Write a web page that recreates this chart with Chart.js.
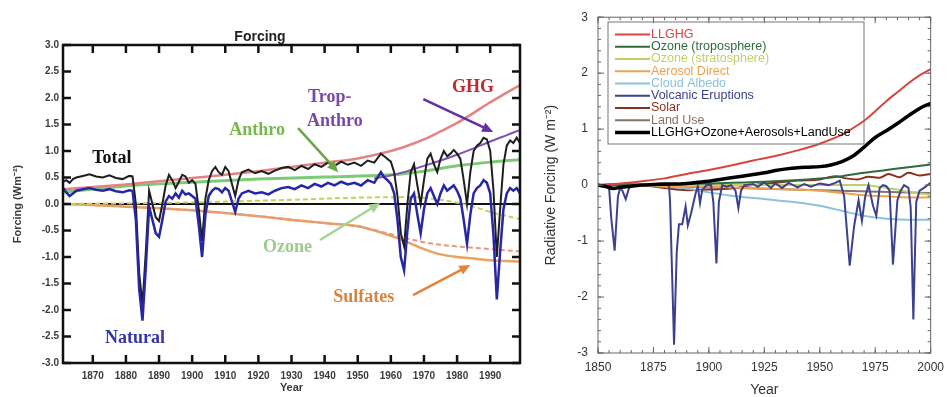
<!DOCTYPE html>
<html>
<head>
<meta charset="utf-8">
<script src="https://cdn.jsdelivr.net/npm/chart.js@4.4.1/dist/chart.umd.min.js"></script>
<style>
  html, body { margin: 0; padding: 0; background: #fff; }
  #wrap { position: relative; width: 951px; height: 397px; overflow: hidden; }
  #leftBox { position: absolute; left: 0; top: 0; width: 540px; height: 397px; }
  #rightBox { position: absolute; left: 540px; top: 0; width: 411px; height: 397px; }
</style>
</head>
<body>
<div id="wrap">
  <div id="leftBox"><canvas id="leftChart" width="540" height="397"></canvas></div>
  <div id="rightBox"><canvas id="rightChart" width="411" height="397"></canvas></div>
</div>
<script>
// ---------- left panel: model forcing, 1861-2000 ----------
const leftXTicks = [1870, 1880, 1890, 1900, 1910, 1920, 1930, 1940, 1950, 1960, 1970, 1980, 1990];
const leftYTicks = [-3, -2.5, -2, -1.5, -1, -0.5, 0, 0.5, 1, 1.5, 2, 2.5, 3];

const ghgYears  = [1861, 1870, 1880, 1890, 1900, 1910, 1920, 1930, 1940, 1950, 1960, 1965, 1970, 1975, 1980, 1985, 1990, 1995, 2000];
const ghgValues = [0.28, 0.32, 0.37, 0.43, 0.49, 0.55, 0.62, 0.7, 0.78, 0.86, 1.0, 1.1, 1.22, 1.37, 1.53, 1.72, 1.92, 2.1, 2.28];

const anthroYears  = [1861, 1880, 1900, 1920, 1940, 1960, 1970, 1980, 1990, 2000];
const anthroValues = [0.22, 0.34, 0.41, 0.47, 0.51, 0.55, 0.62, 0.72, 0.79, 0.84];

const tropYears  = [1955, 1960, 1965, 1970, 1975, 1980, 1985, 1990, 1995, 2000];
const tropValues = [0.48, 0.54, 0.62, 0.72, 0.82, 0.93, 1.05, 1.18, 1.3, 1.42];

const ozoneYears  = [1861, 1900, 1930, 1950, 1965, 1975, 1985, 1990, 2000];
const ozoneValues = [0.0, 0.03, 0.08, 0.12, 0.13, 0.08, -0.05, -0.15, -0.3];

const sulfYears  = [1861, 1870, 1880, 1890, 1900, 1910, 1920, 1930, 1940, 1950, 1955, 1960, 1965, 1970, 1975, 1980, 1985, 1990, 2000];
const sulfValues = [0, -0.02, -0.05, -0.08, -0.12, -0.17, -0.23, -0.3, -0.36, -0.42, -0.5, -0.6, -0.72, -0.85, -0.95, -1.0, -1.03, -1.06, -1.09];

const sulfDirYears  = [1861, 1880, 1900, 1920, 1940, 1950, 1955, 1960, 1965, 1970, 1975, 1980, 1990, 2000];
const sulfDirValues = [0, -0.05, -0.12, -0.23, -0.36, -0.42, -0.49, -0.57, -0.65, -0.72, -0.77, -0.8, -0.85, -0.9];

const natYears = [
  1861, 1862, 1863, 1864, 1865, 1867, 1869, 1871, 1873, 1875, 1877, 1879, 1881, 1882,
  1883, 1884, 1885, 1886, 1887, 1888, 1889, 1890, 1891, 1892, 1893, 1894, 1895, 1896, 1897, 1898, 1899,
  1900, 1901, 1902, 1903, 1904, 1905, 1906, 1907, 1908, 1909, 1910, 1911, 1912, 1913, 1914, 1915,
  1917, 1919, 1921, 1923, 1925, 1927, 1929, 1931, 1933, 1935, 1937, 1939, 1941, 1943, 1945, 1947, 1949, 1951, 1953, 1955,
  1957, 1958, 1959, 1960, 1961, 1962, 1963, 1964, 1965, 1966, 1967, 1968, 1969, 1970, 1971, 1972, 1973, 1974, 1975, 1976,
  1977, 1978, 1979, 1980, 1981, 1982, 1983, 1984, 1985, 1986, 1987, 1988, 1989, 1990, 1991, 1992, 1993, 1994, 1995, 1996,
  1997, 1998, 1999, 2000
];
const naturalValues = [
  0.3, 0.22, 0.15, 0.2, 0.25, 0.28, 0.3, 0.27, 0.25, 0.28, 0.24, 0.22, 0.26, 0.25,
  -0.3, -1.6, -2.2, -1.2, -0.05, -0.3, -0.55, -0.62, -0.3, 0.05, 0.15, 0.1, 0.2, 0.12, 0.25, 0.18, 0.2,
  0.15, 0.1, -0.4, -1.0, -0.2, 0.15, 0.25, 0.3, 0.28, 0.22, 0.3, 0.25, 0.05, -0.15, 0.1, 0.2,
  0.25, 0.2, 0.22, 0.18, 0.25, 0.3, 0.32, 0.28, 0.35, 0.3, 0.38, 0.33, 0.4, 0.35, 0.42, 0.37, 0.4, 0.35, 0.45, 0.4,
  0.6, 0.5, 0.45, 0.38, 0.2, -0.3, -1.0, -1.25, -0.5, 0.1, 0.2, -0.2, -0.55, -0.1, 0.2, 0.3, 0.15, 0.0, 0.2, 0.35,
  0.25, 0.3, 0.35, 0.25, 0.1, -0.3, -0.75, -0.2, 0.2, 0.3, 0.35, 0.45, 0.4, 0.2, -0.6, -1.8, -0.9, -0.1, 0.2, 0.3,
  0.25, 0.3, 0.2, 0.25
];
const totalValues = [
  0.42, 0.45, 0.4, 0.47, 0.5, 0.53, 0.56, 0.52, 0.5, 0.54, 0.49, 0.47, 0.53, 0.52,
  0.0, -1.3, -1.9, -0.9, 0.25, 0.0, -0.25, -0.32, 0.0, 0.35, 0.55, 0.45, 0.3, 0.42, 0.55, 0.52, 0.4,
  0.45, 0.38, -0.1, -0.7, 0.1, 0.45, 0.62, 0.7, 0.6, 0.55, 0.7, 0.62, 0.38, 0.15, 0.45, 0.6,
  0.65, 0.58, 0.62, 0.57, 0.63, 0.68, 0.7, 0.64, 0.72, 0.66, 0.75, 0.7, 0.78, 0.72, 0.8, 0.74, 0.78, 0.72, 0.82, 0.78,
  0.95, 0.9, 0.85, 0.8, 0.6, 0.15, -0.55, -0.8, 0.0, 0.6, 0.75, 0.35, 0.0, 0.45, 0.85, 0.95, 0.75, 0.6, 0.85, 1.0,
  0.9, 0.95, 1.02, 0.95, 0.85, 0.45, 0.0, 0.6, 1.0, 1.1, 1.15, 1.25, 1.22, 1.0, 0.25, -1.0, -0.1, 0.75, 1.1, 1.2,
  1.15, 1.25, 1.15, 1.25
];

// ---------- right panel: radiative forcing, 1850-2000 ----------
const rightXTicks = [1850, 1875, 1900, 1925, 1950, 1975, 2000];
const rightYTicks = [-3, -2, -1, 0, 1, 2, 3];

const llghgYears  = [1850, 1860, 1870, 1880, 1890, 1900, 1910, 1920, 1930, 1940, 1950, 1960, 1965, 1970, 1975, 1980, 1985, 1990, 1995, 2000];
const llghgValues = [0, 0.03, 0.07, 0.12, 0.2, 0.27, 0.35, 0.44, 0.52, 0.62, 0.74, 0.9, 1.02, 1.15, 1.32, 1.5, 1.66, 1.82, 1.96, 2.07];

const ozTropYears  = [1850, 1875, 1900, 1925, 1950, 1960, 1970, 1980, 1990, 2000];
const ozTropValues = [0, 0.01, 0.03, 0.06, 0.12, 0.16, 0.22, 0.27, 0.32, 0.37];

const ozStratYears  = [1850, 1970, 1975, 1980, 1985, 1990, 1995, 2000];
const ozStratValues = [0, 0, -0.02, -0.05, -0.08, -0.12, -0.15, -0.17];

const aeroYears  = [1850, 1875, 1900, 1925, 1950, 1960, 1970, 1980, 1990, 2000];
const aeroValues = [0, -0.01, -0.03, -0.06, -0.1, -0.14, -0.18, -0.2, -0.22, -0.22];

const cloudYears  = [1850, 1875, 1890, 1900, 1910, 1925, 1940, 1950, 1960, 1970, 1980, 1990, 2000];
const cloudValues = [0, -0.02, -0.06, -0.13, -0.19, -0.25, -0.31, -0.37, -0.46, -0.55, -0.6, -0.62, -0.62];

const volcYears = [
  1850, 1853, 1855, 1856, 1857.5, 1859, 1860, 1861, 1862.5, 1864,
  1866, 1870, 1875, 1880, 1882, 1882.5, 1884.3, 1885.5, 1886.5, 1888,
  1889.5, 1890.5, 1892, 1894, 1895, 1896, 1897, 1899, 1901, 1902,
  1903.4, 1904.5, 1906, 1908, 1910, 1912, 1913.3, 1914.5, 1916, 1920,
  1922, 1925, 1928, 1930, 1933, 1936, 1940, 1943, 1946, 1950,
  1954, 1957, 1959, 1961, 1963.5, 1965.5, 1967.5, 1969, 1970.5, 1972,
  1974, 1975.5, 1977, 1978.5, 1980, 1981.5, 1983, 1985, 1986.5, 1988,
  1990, 1991, 1992.2, 1993.5, 1995, 1997, 2000
];
const volcValues = [
  0, 0, -0.05, -0.6, -1.17, -0.2, -0.05, -0.1, -0.25, -0.05,
  0, 0, 0, 0, 0, -0.3, -2.85, -1.2, -0.7, -0.7,
  -0.38, -0.72, -0.5, -0.15, -0.02, -0.32, -0.09, 0, 0, -0.3,
  -1.4, -0.3, 0, -0.03, 0, -0.1, -0.41, -0.1, 0, 0.02,
  -0.03, 0.05, -0.05, 0.03, -0.05, 0.04, -0.04, 0.02, -0.03, 0.03,
  0, 0.04, 0.08, -0.2, -1.44, -0.73, -0.27, -0.64, -0.2, 0,
  -0.37, -0.55, -0.05, 0, -0.02, -0.1, -1.42, -0.27, -0.1, 0,
  -0.05, -0.4, -2.4, -0.3, -0.1, -0.05, 0.04
];

const solarYears  = [1850, 1860, 1870, 1880, 1890, 1900, 1910, 1920, 1930, 1940, 1950, 1957, 1962, 1967, 1972, 1977, 1981, 1986, 1990, 1995, 2000];
const solarValues = [0, 0.02, 0.0, -0.05, -0.09, -0.08, -0.06, 0.0, 0.04, 0.08, 0.1, 0.16, 0.12, 0.1, 0.15, 0.13, 0.2, 0.14, 0.22, 0.17, 0.2];

const landYears  = [1850, 1900, 1950, 2000];
const landValues = [0, -0.04, -0.09, -0.14];

const sumYears  = [1850, 1853, 1857, 1860, 1865, 1870, 1875, 1880, 1885, 1890, 1895, 1900, 1905, 1910, 1915, 1920, 1925, 1930, 1935, 1940, 1945, 1950, 1955, 1960, 1965, 1970, 1975, 1980, 1985, 1990, 1995, 2000];
const sumValues = [0, -0.02, -0.06, -0.04, -0.02, 0, 0.01, 0.02, 0.02, 0.03, 0.05, 0.07, 0.1, 0.13, 0.16, 0.19, 0.22, 0.26, 0.29, 0.31, 0.32, 0.33, 0.36, 0.42, 0.52, 0.68, 0.85, 0.97, 1.1, 1.24, 1.37, 1.46];

// ---------- helpers / plugins ----------
const SANS = '"Liberation Sans", Arial, sans-serif';
const SERIF = '"Liberation Serif", "Times New Roman", serif';
const pts = (xs, ys) => xs.map((x, i) => ({ x: x, y: ys[i] }));

// box round the plot with ticks pointing inwards on all four sides
const frameTicks = {
    id: 'frameTicks',
    afterDatasetsDraw(chart, args, o) {
        const { ctx, chartArea: a, scales } = chart;
        ctx.save();
        ctx.strokeStyle = o.color;
        ctx.lineWidth = o.width;
        ctx.strokeRect(a.left, a.top, a.right - a.left, a.bottom - a.top);
        ctx.beginPath();
        const mark = (scale, value, len) => {
            const p = scale.getPixelForValue(value);
            if (scale.isHorizontal()) {
                ctx.moveTo(p, a.bottom); ctx.lineTo(p, a.bottom - len);
                ctx.moveTo(p, a.top); ctx.lineTo(p, a.top + len);
            } else {
                ctx.moveTo(a.left, p); ctx.lineTo(a.left + len, p);
                ctx.moveTo(a.right, p); ctx.lineTo(a.right - len, p);
            }
        };
        [scales.x, scales.y].forEach((scale, k) => {
            const step = k === 0 ? o.minorX : o.minorY;
            if (step) {
                for (let v = Math.ceil(scale.min / step) * step; v <= scale.max + 1e-9; v += step) {
                    mark(scale, v, o.minorLen);
                }
            }
            scale.ticks.forEach(t => mark(scale, t.value, o.majorLen));
        });
        ctx.stroke();
        ctx.restore();
    }
};

// free labels and arrows on the left panel, placed in data units
const notes = {
    id: 'notes',
    afterDatasetsDraw(chart, args, o) {
        const { ctx, scales: { x, y } } = chart;
        ctx.save();
        ctx.font = o.font;
        ctx.textBaseline = 'alphabetic';
        o.labels.forEach(l => {
            ctx.fillStyle = l.color;
            ctx.fillText(l.text, x.getPixelForValue(l.at[0]), y.getPixelForValue(l.at[1]));
        });
        o.arrows.forEach(ar => {
            const x0 = x.getPixelForValue(ar.from[0]), y0 = y.getPixelForValue(ar.from[1]);
            const x1 = x.getPixelForValue(ar.to[0]), y1 = y.getPixelForValue(ar.to[1]);
            const ang = Math.atan2(y1 - y0, x1 - x0);
            const head = 11;
            ctx.strokeStyle = ar.color;
            ctx.fillStyle = ar.color;
            ctx.lineWidth = 2.5;
            ctx.beginPath();
            ctx.moveTo(x0, y0);
            ctx.lineTo(x1 - head * 0.8 * Math.cos(ang), y1 - head * 0.8 * Math.sin(ang));
            ctx.stroke();
            ctx.beginPath();
            ctx.moveTo(x1, y1);
            ctx.lineTo(x1 - head * Math.cos(ang) + 5 * Math.sin(ang), y1 - head * Math.sin(ang) - 5 * Math.cos(ang));
            ctx.lineTo(x1 - head * Math.cos(ang) - 5 * Math.sin(ang), y1 - head * Math.sin(ang) + 5 * Math.cos(ang));
            ctx.closePath();
            ctx.fill();
        });
        ctx.restore();
    }
};

// boxed legend inside the right panel, text coloured like its line
const boxLegend = {
    id: 'boxLegend',
    afterDraw(chart, args, o) {
        const { ctx } = chart;
        ctx.save();
        ctx.strokeStyle = o.borderColor;
        ctx.lineWidth = 1;
        ctx.strokeRect(o.left, o.top, o.width, o.height);
        ctx.font = o.font;
        ctx.textBaseline = 'middle';
        chart.data.datasets.forEach((ds, i) => {
            const yy = o.top + o.firstRow + i * o.rowGap;
            ctx.strokeStyle = ds.borderColor;
            ctx.lineWidth = ds.borderWidth;
            ctx.beginPath();
            ctx.moveTo(o.left + o.lineStart, yy);
            ctx.lineTo(o.left + o.lineEnd, yy);
            ctx.stroke();
            ctx.fillStyle = ds.borderColor;
            ctx.fillText(ds.label, o.left + o.textStart, yy);
        });
        ctx.restore();
    }
};

const smooth = { cubicInterpolationMode: 'monotone', pointRadius: 0 };
const jagged = { tension: 0, pointRadius: 0 };

// ---------- left chart ----------
new Chart(document.getElementById('leftChart'), {
    type: 'line',
    data: {
        datasets: [
            { label: 'Natural', data: pts(natYears, naturalValues), borderColor: '#2626a6', borderWidth: 2.5, ...jagged },
            { label: 'Total', data: pts(natYears, totalValues), borderColor: '#1e1e1e', borderWidth: 2, ...jagged },
            { label: 'GHG', data: pts(ghgYears, ghgValues), borderColor: '#e58286', borderWidth: 2.5, ...smooth },
            { label: 'Trop-Anthro', data: pts(tropYears, tropValues), borderColor: '#8050b8', borderWidth: 2, ...smooth },
            { label: 'Anthro', data: pts(anthroYears, anthroValues), borderColor: '#7cca74', borderWidth: 3, ...smooth },
            { label: 'Ozone', data: pts(ozoneYears, ozoneValues), borderColor: '#c9cf4e', borderWidth: 2, borderDash: [5, 3], ...smooth },
            { label: 'Sulfates (direct)', data: pts(sulfDirYears, sulfDirValues), borderColor: '#e39a7a', borderWidth: 2, borderDash: [5, 3], ...smooth },
            { label: 'Sulfates', data: pts(sulfYears, sulfValues), borderColor: '#eaa261', borderWidth: 2.5, ...smooth }
        ]
    },
    options: {
        responsive: false,
        animation: false,
        events: [],
        layout: { padding: { left: 0, right: 20, top: 0, bottom: 0 } },
        scales: {
            x: {
                type: 'linear', min: 1861, max: 1999,
                afterBuildTicks: s => { s.ticks = leftXTicks.map(v => ({ value: v })); },
                afterFit: s => { s.height = 34; },
                grid: { display: false, drawTicks: false },
                border: { display: false },
                ticks: { padding: 7, color: '#3a3a3a', font: { family: SANS, size: 10, weight: 'bold' }, maxRotation: 0, autoSkip: false, callback: v => String(v) },
                title: { display: true, text: 'Year', color: '#3a3a3a', font: { family: SANS, size: 11, weight: 'bold' }, padding: { top: 0, bottom: 2 } }
            },
            y: {
                type: 'linear', min: -3, max: 3,
                afterBuildTicks: s => { s.ticks = leftYTicks.map(v => ({ value: v })); },
                afterFit: s => { s.width = 63; },
                grid: { drawTicks: false, lineWidth: 2, color: c => (c.tick && c.tick.value === 0) ? '#111' : 'rgba(0,0,0,0)' },
                border: { display: false },
                ticks: { padding: 4, color: '#3a3a3a', font: { family: SANS, size: 10, weight: 'bold' }, callback: v => v.toFixed(1) },
                title: { display: true, text: 'Forcing (Wm⁻²)', color: '#3a3a3a', font: { family: SANS, size: 11, weight: 'bold' }, padding: { top: 11, bottom: 0 } }
            }
        },
        plugins: {
            legend: { display: false },
            tooltip: { enabled: false },
            title: { display: true, text: 'Forcing', color: '#222', font: { family: SANS, size: 14, weight: 'bold', lineHeight: 1 }, padding: { top: 30, bottom: 1 } },
            frameTicks: { color: '#111', width: 2.5, majorLen: 8, minorLen: 0 },
            notes: {
                font: 'bold 18px ' + SERIF,
                labels: [
                    { text: 'GHG', at: [1978.5, 2.11], color: '#c4282c' },
                    { text: 'Trop-', at: [1935, 1.92], color: '#7a48a8' },
                    { text: 'Anthro', at: [1934.7, 1.47], color: '#7a48a8' },
                    { text: 'Anthro', at: [1911.2, 1.3], color: '#78b84a' },
                    { text: 'Total', at: [1869.8, 0.77], color: '#111' },
                    { text: 'Natural', at: [1873.7, -2.62], color: '#3434b0' },
                    { text: 'Ozone', at: [1921.4, -0.91], color: '#9ccc8c' },
                    { text: 'Sulfates', at: [1942.6, -1.85], color: '#d8843e' }
                ],
                arrows: [
                    { from: [1969.8, 1.98], to: [1990.9, 1.36], color: '#6430a4' },
                    { from: [1932, 1.43], to: [1944.1, 0.6], color: '#6aa744' },
                    { from: [1938.6, -0.68], to: [1956.8, 0.02], color: '#a4d494' },
                    { from: [1966.7, -1.72], to: [1984, -1.15], color: '#e2843c' }
                ]
            }
        }
    },
    plugins: [frameTicks, notes]
});

// ---------- right chart ----------
new Chart(document.getElementById('rightChart'), {
    type: 'line',
    data: {
        datasets: [
            { label: 'LLGHG', data: pts(llghgYears, llghgValues), borderColor: '#d8453b', borderWidth: 2, order: 2, ...smooth },
            { label: 'Ozone (troposphere)', data: pts(ozTropYears, ozTropValues), borderColor: '#2f6b3d', borderWidth: 2, order: 2, ...smooth },
            { label: 'Ozone (stratosphere)', data: pts(ozStratYears, ozStratValues), borderColor: '#bfd166', borderWidth: 2, order: 2, ...smooth },
            { label: 'Aerosol Direct', data: pts(aeroYears, aeroValues), borderColor: '#eda24c', borderWidth: 2, order: 2, ...smooth },
            { label: 'Cloud Albedo', data: pts(cloudYears, cloudValues), borderColor: '#8ac2de', borderWidth: 2, order: 2, ...smooth },
            { label: 'Volcanic Eruptions', data: pts(volcYears, volcValues), borderColor: '#3c418e', borderWidth: 2, order: 1, ...jagged },
            { label: 'Solar', data: pts(solarYears, solarValues), borderColor: '#8c2f20', borderWidth: 2, order: 2, ...smooth },
            { label: 'Land Use', data: pts(landYears, landValues), borderColor: '#857466', borderWidth: 2, order: 2, ...smooth },
            { label: 'LLGHG+Ozone+Aerosols+LandUse', data: pts(sumYears, sumValues), borderColor: '#000', borderWidth: 3.5, order: 0, ...smooth }
        ]
    },
    options: {
        responsive: false,
        animation: false,
        events: [],
        layout: { padding: { left: 0, right: 16, top: 14, bottom: 0 } },
        scales: {
            x: {
                type: 'linear', min: 1850, max: 2000,
                afterBuildTicks: s => { s.ticks = rightXTicks.map(v => ({ value: v })); },
                afterFit: s => { s.height = 44; },
                grid: { display: false, drawTicks: false },
                border: { display: false },
                ticks: { padding: 7, color: '#333', font: { family: SANS, size: 12 }, maxRotation: 0, autoSkip: false, callback: v => String(v) },
                title: { display: true, text: 'Year', color: '#333', font: { family: SANS, size: 14, lineHeight: 1 }, padding: { top: 0, bottom: 0 } }
            },
            y: {
                type: 'linear', min: -3, max: 3,
                afterBuildTicks: s => { s.ticks = rightYTicks.map(v => ({ value: v })); },
                afterFit: s => { s.width = 58; },
                grid: { display: false, drawTicks: false },
                border: { display: false },
                ticks: { padding: 10, color: '#333', font: { family: SANS, size: 12 }, callback: v => String(v) },
                title: { display: true, text: 'Radiative Forcing (W m⁻²)', color: '#333', font: { family: SANS, size: 14 }, padding: { top: 3, bottom: 0 } }
            }
        },
        plugins: {
            legend: { display: false },
            tooltip: { enabled: false },
            frameTicks: { color: '#666', width: 1, majorLen: 6, minorLen: 3, minorX: 5, minorY: 0.2 },
            boxLegend: {
                left: 68, top: 22, width: 256, height: 122,
                firstRow: 12.5, rowGap: 12.25,
                lineStart: 7, lineEnd: 42, textStart: 43,
                borderColor: '#777',
                font: '12.5px ' + SANS
            }
        }
    },
    plugins: [frameTicks, boxLegend]
});
</script>
</body>
</html>
